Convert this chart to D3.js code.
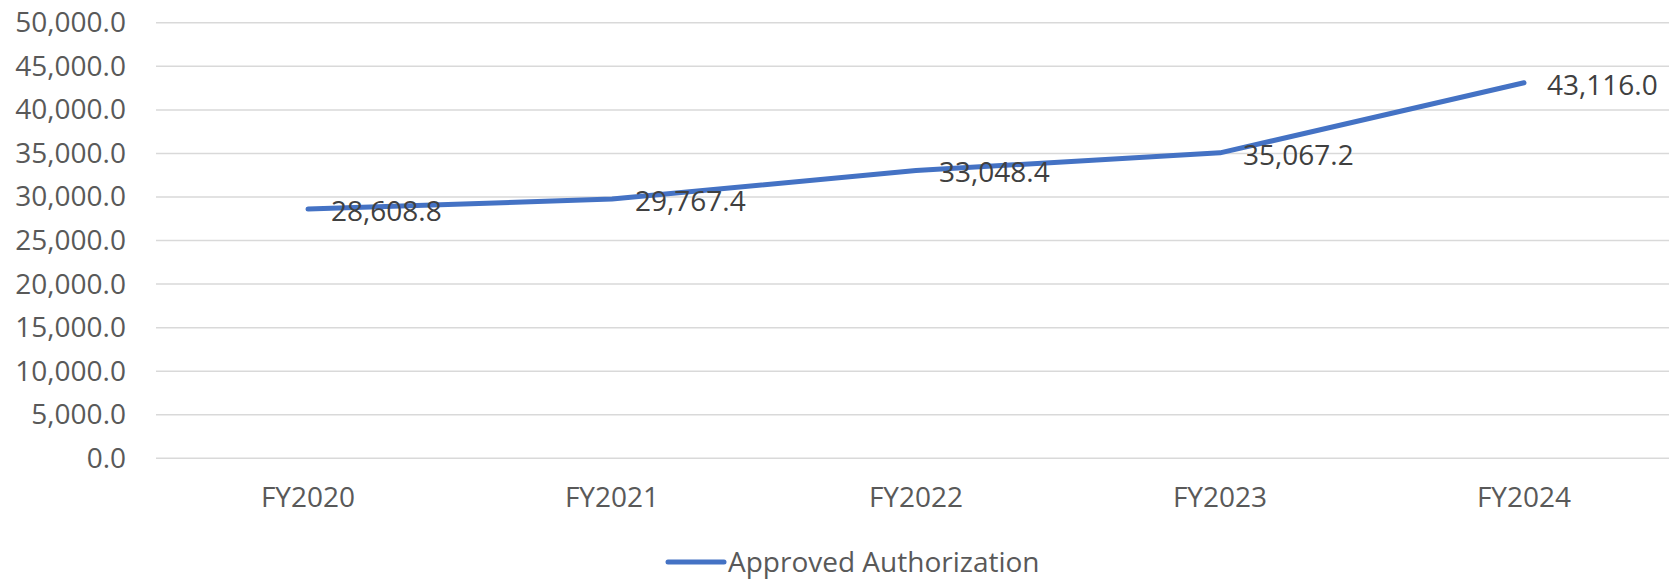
<!DOCTYPE html>
<html>
<head>
<meta charset="utf-8">
<script src="https://cdn.jsdelivr.net/npm/d3@7"></script>
<style>
  body { margin: 0; background: #fff; }
  svg { display: block; font-family: "Open Sans", sans-serif; }
</style>
</head>
<body>
<div id="chart"></div>
<script>
const categories = ["FY2020", "FY2021", "FY2022", "FY2023", "FY2024"];
const approved = [28608.8, 29767.4, 33048.4, 35067.2, 43116.0];
const yTicks = [0, 5000, 10000, 15000, 20000, 25000, 30000, 35000, 40000, 45000, 50000];
const seriesName = "Approved Authorization";

const W = 1669, H = 579;
const plot = { left: 156, right: 1676, top: 22.8, bottom: 458.3 };

const svg = d3.select("#chart").append("svg")
  .attr("width", W)
  .attr("height", H);

const x = d3.scaleBand()
  .domain(categories)
  .range([plot.left, plot.right]);

const y = d3.scaleLinear()
  .domain([0, 50000])
  .range([plot.bottom, plot.top]);

const fmt = d3.format(",.1f");

// gridlines
svg.append("g")
  .selectAll("line")
  .data(yTicks)
  .join("line")
  .attr("x1", plot.left)
  .attr("x2", W)
  .attr("y1", d => y(d))
  .attr("y2", d => y(d))
  .attr("stroke", "#d9d9d9")
  .attr("stroke-width", 1.5);

// y axis labels
const yAxis = svg.append("g")
  .attr("transform", `translate(${plot.left},0)`)
  .call(d3.axisLeft(y).tickValues(yTicks).tickFormat(fmt).tickSize(0).tickPadding(30));
yAxis.select(".domain").remove();
yAxis.selectAll("text")
  .attr("fill", "#595959")
  .style("font-size", "28px")
  .style("font-family", "Open Sans, sans-serif");

// x axis labels
const xAxis = svg.append("g")
  .attr("transform", `translate(0,${plot.bottom})`)
  .call(d3.axisBottom(x).tickSize(0).tickPadding(29));
xAxis.select(".domain").remove();
xAxis.selectAll("text")
  .attr("fill", "#595959")
  .style("font-size", "28px")
  .style("font-family", "Open Sans, sans-serif");

const cx = d => x(d) + x.bandwidth() / 2;

// line
const line = d3.line()
  .x((d, i) => cx(categories[i]))
  .y(d => y(d));

svg.append("path")
  .datum(approved)
  .attr("d", line)
  .attr("fill", "none")
  .attr("stroke", "#4472C4")
  .attr("stroke-width", 5)
  .attr("stroke-linecap", "round")
  .attr("stroke-linejoin", "round");

// data labels
svg.append("g")
  .selectAll("text")
  .data(approved)
  .join("text")
  .attr("x", (d, i) => cx(categories[i]) + 23)
  .attr("y", d => y(d) + 2)
  .attr("dy", "0.35em")
  .attr("fill", "#404040")
  .style("font-size", "28px")
  .text(d => fmt(d));

// legend
const legend = svg.append("g").attr("transform", "translate(668,562)");
legend.append("line")
  .attr("x1", 0)
  .attr("x2", 56)
  .attr("stroke", "#4472C4")
  .attr("stroke-width", 5)
  .attr("stroke-linecap", "round");
legend.append("text")
  .attr("x", 60)
  .attr("dy", "0.35em")
  .attr("fill", "#595959")
  .style("font-size", "28px")
  .text(seriesName);
</script>
</body>
</html>
